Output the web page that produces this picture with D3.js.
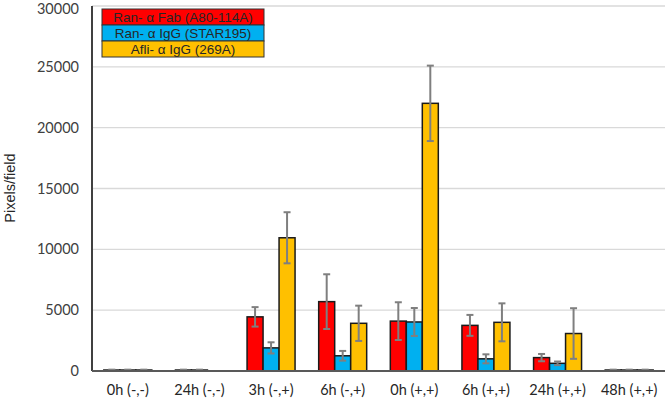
<!DOCTYPE html>
<html>
<head>
<meta charset="utf-8">
<script src="https://cdn.jsdelivr.net/npm/d3@7"></script>
<style>
  body { margin: 0; background: #fff; }
  svg { display: block; }
</style>
</head>
<body>
<div id="main"></div>
<script>
// chart data
const categories = ['0h (-,-)', '24h (-,-)', '3h (-,+)', '6h (-,+)', '0h (+,+)', '6h (+,+)', '24h (+,+)', '48h (+,+)'];
const seriesNames = ['Ran- \u03b1 Fab (A80-114A)', 'Ran- \u03b1 IgG (STAR195)', 'Afli- \u03b1 IgG (269A)'];
const fabValues = [80, 80, 4450, 5700, 4100, 3750, 1100, 80];
const fabErrors = [30, 30, 800, 2250, 1550, 860, 300, 30];
const iggValues = [80, 80, 1900, 1250, 4030, 1000, 630, 80];
const iggErrors = [30, 30, 460, 400, 1150, 370, 150, 30];
const afliValues = [80, 0, 10950, 3920, 22000, 4000, 3080, 80];
const afliErrors = [30, 0, 2100, 1450, 3100, 1560, 2080, 30];
const yTicks = [0, 5000, 10000, 15000, 20000, 25000, 30000];

const seriesColors = ['#ff0000', '#00b0f0', '#ffc000'];

const width = 666;
const height = 399;
const margin = { top: 6, right: 1, bottom: 28, left: 92 };
const chartWidth = width - margin.left - margin.right;
const chartHeight = height - margin.top - margin.bottom;

const series = [
  { name: seriesNames[0], values: fabValues, errors: fabErrors },
  { name: seriesNames[1], values: iggValues, errors: iggErrors },
  { name: seriesNames[2], values: afliValues, errors: afliErrors },
];

const svg = d3.select('#main')
  .append('svg')
  .attr('width', width)
  .attr('height', height);

const g = svg.append('g')
  .attr('transform', `translate(${margin.left}, ${margin.top})`);

const xScale = d3.scaleBand()
  .domain(categories)
  .range([0, chartWidth])
  .paddingInner(0.33)
  .paddingOuter(0.165);

const xInner = d3.scaleBand()
  .domain(d3.range(series.length))
  .range([0, xScale.bandwidth()]);

const yScale = d3.scaleLinear()
  .domain([0, 30000])
  .range([chartHeight, 0]);

// gridlines
g.append('g')
  .selectAll('line')
  .data(yTicks.slice(1))
  .join('line')
  .attr('x1', 0)
  .attr('x2', chartWidth)
  .attr('y1', (d) => yScale(d))
  .attr('y2', (d) => yScale(d))
  .attr('stroke', '#d9d9d9')
  .attr('stroke-width', 1.3);

// y axis tick labels
const yAxis = g.append('g')
  .call(d3.axisLeft(yScale).tickValues(yTicks).tickSize(0).tickPadding(13).tickFormat(d3.format('d')));
yAxis.select('.domain').remove();
yAxis.selectAll('text')
  .attr('font-family', 'Lato, "Open Sans", sans-serif')
  .attr('font-size', 14.5)
  .attr('fill', '#404040');
yAxis.selectAll('.tick:last-of-type text').attr('dy', '0.5em');

// bars
const flat = [];
series.forEach((s, si) => {
  categories.forEach((c, ci) => {
    flat.push({ cat: c, si: si, value: s.values[ci], err: s.errors[ci] });
  });
});

g.append('g')
  .selectAll('rect')
  .data(flat.filter((d) => d.value > 0))
  .join('rect')
  .attr('x', (d) => xScale(d.cat) + xInner(d.si))
  .attr('y', (d) => yScale(d.value))
  .attr('width', xInner.bandwidth())
  .attr('height', (d) => chartHeight - yScale(d.value))
  .attr('fill', (d) => seriesColors[d.si])
  .attr('stroke', '#1a1a1a')
  .attr('stroke-width', 1.5);

// error bars
const errData = flat.filter((d) => d.err > 0);
const errG = g.append('g')
  .attr('stroke', '#7f7f7f')
  .attr('stroke-width', 2);
const cx = (d) => xScale(d.cat) + xInner(d.si) + xInner.bandwidth() / 2;
errG.selectAll('line.v')
  .data(errData)
  .join('line')
  .attr('class', 'v')
  .attr('x1', cx)
  .attr('x2', cx)
  .attr('y1', (d) => yScale(d.value + d.err))
  .attr('y2', (d) => yScale(Math.max(0, d.value - d.err)));
errG.selectAll('line.top')
  .data(errData)
  .join('line')
  .attr('class', 'top')
  .attr('x1', (d) => cx(d) - 3.5)
  .attr('x2', (d) => cx(d) + 3.5)
  .attr('y1', (d) => yScale(d.value + d.err))
  .attr('y2', (d) => yScale(d.value + d.err));
errG.selectAll('line.bot')
  .data(errData)
  .join('line')
  .attr('class', 'bot')
  .attr('x1', (d) => cx(d) - 3.5)
  .attr('x2', (d) => cx(d) + 3.5)
  .attr('y1', (d) => yScale(Math.max(0, d.value - d.err)))
  .attr('y2', (d) => yScale(Math.max(0, d.value - d.err)));

// axes lines
g.append('line')
  .attr('x1', 0).attr('x2', 0)
  .attr('y1', 0).attr('y2', chartHeight)
  .attr('stroke', '#404040')
  .attr('stroke-width', 2);
g.append('line')
  .attr('x1', 0).attr('x2', chartWidth)
  .attr('y1', chartHeight).attr('y2', chartHeight)
  .attr('stroke', '#595959')
  .attr('stroke-width', 2);

// x axis labels
const xAxis = g.append('g')
  .attr('transform', `translate(0, ${chartHeight})`)
  .call(d3.axisBottom(xScale).tickSize(0).tickPadding(14));
xAxis.select('.domain').remove();
xAxis.selectAll('text')
  .attr('font-family', 'Lato, "Open Sans", sans-serif')
  .attr('font-size', 14.5)
  .attr('fill', '#262626');

// y axis title
svg.append('text')
  .attr('transform', `translate(15, 188) rotate(-90)`)
  .attr('text-anchor', 'middle')
  .attr('font-family', '"Liberation Sans", Arial, sans-serif')
  .attr('font-size', 14.5)
  .attr('fill', '#262626')
  .text('Pixels/field');

// legend
const legendX = 102;
const legendY = 9;
const legendW = 162;
const rowH = 16;
const legend = svg.append('g');
legend.selectAll('rect')
  .data(seriesNames)
  .join('rect')
  .attr('x', legendX)
  .attr('y', (d, i) => legendY + i * rowH)
  .attr('width', legendW)
  .attr('height', rowH)
  .attr('fill', (d, i) => seriesColors[i])
  .attr('stroke', '#333')
  .attr('stroke-width', 1);
legend.selectAll('text')
  .data(seriesNames)
  .join('text')
  .attr('x', legendX + legendW / 2)
  .attr('y', (d, i) => legendY + i * rowH + rowH / 2 + 4.5)
  .attr('text-anchor', 'middle')
  .attr('font-family', '"Liberation Sans", Arial, sans-serif')
  .attr('font-size', 13.5)
  .attr('fill', '#262626')
  .text((d) => d);
</script>
</body>
</html>
